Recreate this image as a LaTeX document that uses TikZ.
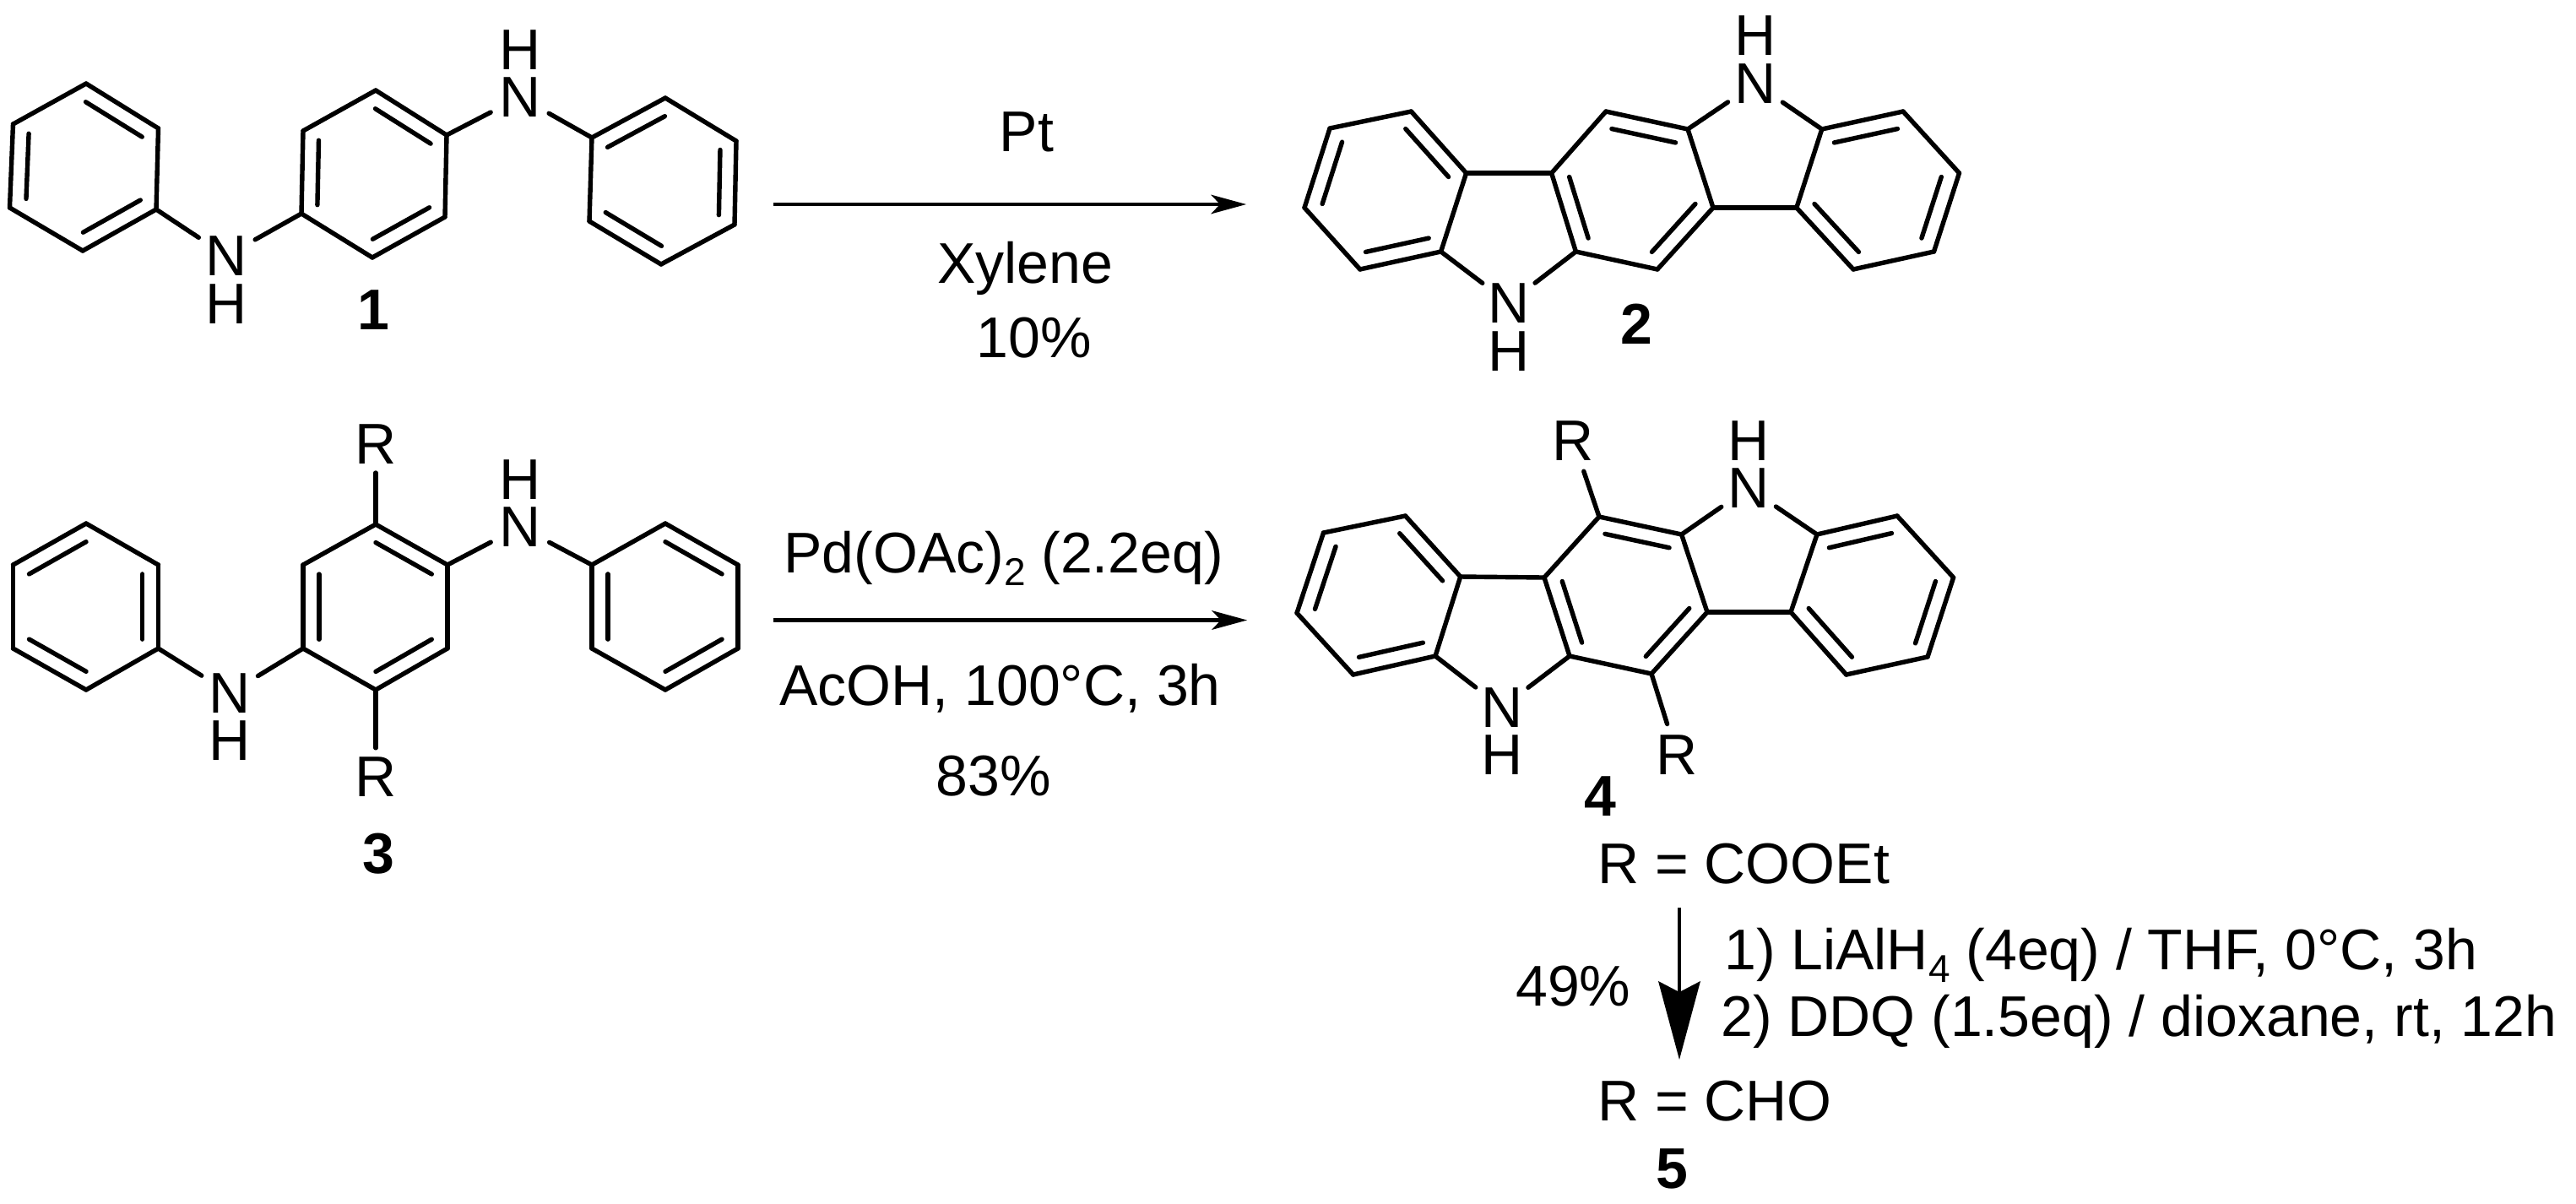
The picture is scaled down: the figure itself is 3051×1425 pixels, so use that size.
\documentclass[tikz,border=0pt]{standalone}
\usepackage{fontspec}
\setmainfont{Liberation Sans}
\usetikzlibrary{calc,arrows.meta}
\tikzset{
  bond/.style={line width=5.4pt,line cap=round,line join=round,black},
  atomlabel/.style={circle,inner sep=0pt,minimum size=78pt,font=\chemfont},
  rlabel/.style={circle,inner sep=0pt,minimum size=#1,font=\chemfont},
  numlabel/.style={inner sep=0pt,font=\chemfont\bfseries},
  txt/.style={inner sep=0pt,font=\chemfont},
  rxnline/.style={line width=4.6pt,black,-{Stealth[length=42pt,width=23pt,inset=11pt,line width=0pt]}},
  bigline/.style={line width=4.2pt,black,-{Stealth[length=93pt,width=50pt,inset=13pt,line width=0pt]}}
}
\newcommand\chemfont{\fontsize{68}{80}\selectfont}
\newcommand\lowidx[1]{\raisebox{-15pt}{\fontsize{46}{50}\selectfont #1}}
\newcommand\hexring[7]{%
  \coordinate (#11) at #2; \coordinate (#12) at #3; \coordinate (#13) at #4;
  \coordinate (#14) at #5; \coordinate (#15) at #6; \coordinate (#16) at #7;
  \coordinate (#1C) at ($(#11)!0.5!(#14)$);}
\newcommand\sbond[2]{\draw[bond] (#1) -- (#2);}
\newcommand\dbond[3]{\draw[bond] (#1) -- (#2);
  \draw[bond] ($(#1)!0.22!(#3)$) -- ($(#2)!0.22!(#3)$);}
% phenyl ring with double bonds 1-2,3-4,5-6
\newcommand\ringA[1]{\dbond{#11}{#12}{#1C}\sbond{#12}{#13}\dbond{#13}{#14}{#1C}\sbond{#14}{#15}\dbond{#15}{#16}{#1C}\sbond{#16}{#11}}
% phenyl ring with double bonds 2-3,4-5,6-1
\newcommand\ringB[1]{\sbond{#11}{#12}\dbond{#12}{#13}{#1C}\sbond{#13}{#14}\dbond{#14}{#15}{#1C}\sbond{#15}{#16}\dbond{#16}{#11}{#1C}}
\newcommand\fused[3]{\ringA{#1A}\ringB{#1B}\ringB{#1D}
  \sbond{#1A2}{#1B1}\sbond{#1B4}{#1D1}
  \sbond{#1A3}{#3}\sbond{#1B6}{#3}\sbond{#1B3}{#2}\sbond{#1D2}{#2}}
\begin{document}
\begin{tikzpicture}[x=1pt,y=-1pt]
\useasboundingbox (0,0) rectangle (3051,1425);
% ---------- compound 1
\hexring{pA}{(102,99)}{(187.5,152)}{(185,248)}{(98,297)}{(11.5,246)}{(15.5,147)}
\hexring{pB}{(445,107)}{(529,160)}{(527,257)}{(441,305)}{(357,253)}{(359,155)}
\hexring{pC}{(788,116)}{(872,167)}{(870,266)}{(783,313)}{(698,262)}{(701,163)}
\node[atomlabel] (n1b) at (268,303) {N};
\node[atomlabel] (h1b) at (268,360) {H};
\node[atomlabel] (n1t) at (616,115) {N};
\node[atomlabel] (h1t) at (616,59) {H};
\ringA{pA}\ringA{pB}
\dbond{pC1}{pC6}{pCC}\sbond{pC1}{pC2}\dbond{pC2}{pC3}{pCC}\sbond{pC3}{pC4}\dbond{pC4}{pC5}{pCC}\sbond{pC5}{pC6}
\sbond{pA3}{n1b}\sbond{pB5}{n1b}\sbond{pB2}{n1t}\sbond{pC6}{n1t}
\node[numlabel] (lab1) at (442,367) {1};
% ---------- compound 3
\hexring{qA}{(102,620)}{(187.5,669)}{(187.5,768)}{(102,817)}{(15.5,768)}{(15.5,669)}
\hexring{qB}{(445,621)}{(530,669)}{(530,768)}{(445,817)}{(359,768)}{(359,669)}
\hexring{qC}{(788,620)}{(874,669)}{(874,768)}{(788,817)}{(701,768)}{(701,669)}
\node[atomlabel] (n3b) at (272,821) {N};
\node[atomlabel] (h3b) at (272,877) {H};
\node[atomlabel] (n3t) at (616,624) {N};
\node[atomlabel] (h3t) at (616,568) {H};
\node[rlabel=66pt] (r3t) at (445,526) {R};
\node[rlabel=68pt] (r3b) at (445,920) {R};
\ringB{qA}\ringA{qB}\ringA{qC}
\sbond{qA3}{n3b}\sbond{qB5}{n3b}\sbond{qB2}{n3t}\sbond{qC6}{n3t}
\sbond{qB1}{r3t}\sbond{qB4}{r3b}
\node[numlabel] (lab3) at (448,1011) {3};
% ---------- compound 2
\hexring{aA}{(1671.4,132)}{(1736.6,205)}{(1706.6,298)}{(1610.8,319)}{(1545,246)}{(1575,152)}
\hexring{aB}{(1837.6,205)}{(1902,132)}{(1999,153)}{(2029,246)}{(1963,319)}{(1866.4,298)}
\hexring{aD}{(2127.8,246)}{(2157.8,153)}{(2254,132)}{(2320.5,205)}{(2290.5,298)}{(2195,319)}
\node[atomlabel] (n2t) at (2079,99) {N};
\node[atomlabel] (h2t) at (2079,42) {H};
\node[atomlabel] (n2b) at (1787,359) {N};
\node[atomlabel] (h2b) at (1787,416) {H};
\fused{a}{n2t}{n2b}
\node[numlabel] (lab2) at (1938.5,384) {2};
% ---------- compound 4
\hexring{dA}{(1664.5,611)}{(1729.7,683)}{(1700,777)}{(1602.7,799)}{(1536,726)}{(1567.5,631)}
\hexring{dB}{(1829,684)}{(1894,612)}{(1991.6,633)}{(2022,725)}{(1956,798)}{(1859,777)}
\hexring{dD}{(2121,725)}{(2152,633)}{(2247,611)}{(2313.6,684)}{(2283,778)}{(2186.7,799)}
\node[atomlabel] (n4t) at (2071,578) {N};
\node[atomlabel] (h4t) at (2071,522) {H};
\node[atomlabel] (n4b) at (1778.7,838) {N};
\node[atomlabel] (h4b) at (1778.7,894) {H};
\node[rlabel=76pt] (r4t) at (1863.5,522) {R};
\node[rlabel=76pt] (r4b) at (1986,894) {R};
\fused{d}{n4t}{n4b}
\sbond{dB2}{r4t}\sbond{dB5}{r4b}
\node[numlabel] (lab4) at (1895,943) {4};
% ---------- reaction arrows
\coordinate (ar1s) at (916,242); \coordinate (ar1e) at (1476,242);
\draw[rxnline] (ar1s) -- (ar1e);
\coordinate (ar2s) at (916,734.5); \coordinate (ar2e) at (1477,734.5);
\draw[rxnline] (ar2s) -- (ar2e);
\coordinate (ar3s) at (1989,1075); \coordinate (ar3e) at (1989,1255);
\draw[bigline] (ar3s) -- (ar3e);
% ---------- texts
\node[txt,anchor=base] (tPt) at (1216,179) {Pt};
\node[txt,anchor=base] (tXy) at (1214,335) {Xylene};
\node[txt,anchor=base] (tY1) at (1225,423) {10\%};
\node[txt,anchor=base] (tPd) at (1188.6,678) {Pd(OAc)\lowidx{2} (2.2eq)};
\node[txt,anchor=base] (tAc) at (1184.6,835) {AcOH, 100°C, 3h};
\node[txt,anchor=base] (tY2) at (1177,942) {83\%};
\node[txt,anchor=base west] (tR1) at (1892,1046) {R = COOEt};
\node[txt,anchor=base west] (tC1) at (2042,1148) {1) LiAlH\lowidx{4} (4eq) / THF, 0°C, 3h};
\node[txt,anchor=base west] (tC2) at (2038,1227) {2) DDQ (1.5eq) / dioxane, rt, 12h};
\node[txt,anchor=base west] (tY3) at (1795,1191) {49\%};
\node[txt,anchor=base west] (tR2) at (1892,1327) {R = CHO};
\node[numlabel,anchor=base] (lab5) at (1980,1407) {5};
\end{tikzpicture}
\end{document}
